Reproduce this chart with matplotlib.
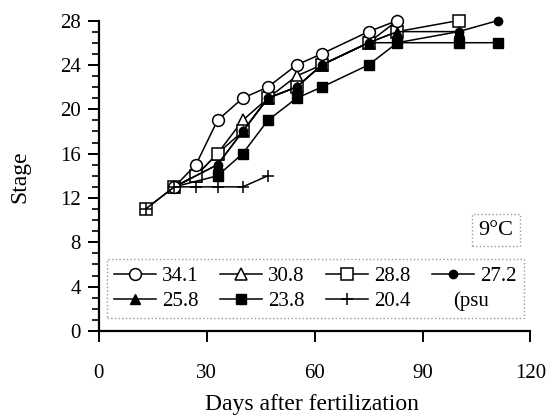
import matplotlib
matplotlib.use("Agg")
import matplotlib.pyplot as plt
from matplotlib.ticker import MultipleLocator

plt.rcParams['font.family'] = ['Liberation Serif', 'DejaVu Serif']

# sampling days (days after fertilization)
days = [13, 21, 27, 33, 40, 47, 55, 62, 75, 83, 100, 111]

# developmental stage per salinity (psu); None = not sampled
s341 = [None, 13, 15, 19, 21, 22, 24, 25, 27, 28, None, None]
s308 = [None, 13, 14, 16, 19, 21, 23, 24, 26, 28, None, None]
s288 = [11, 13, 14, 16, 18, 21, 22, 24, 26, 27, 28, None]
s272 = [None, 13, None, 15, 18, 21, 22, 24, 26, 26, 27, 28]
s258 = [None, 13, None, 15, 18, 21, 22, 24, 26, 27, 27, None]
s238 = [None, 13, None, 14, 16, 19, 21, 22, 24, 26, 26, 26]
s204 = [11, 13, 13, 13, 13, 14, None, None, None, None, None, None]


def pts(vals):
    xs = [d for d, v in zip(days, vals) if v is not None]
    ys = [v for v in vals if v is not None]
    return xs, ys


fig = plt.figure(figsize=(5.52, 4.19), dpi=100)
ax = fig.add_axes([0.179, 0.21, 0.782, 0.741])

style = dict(color='black', lw=1.1, clip_on=False)
lines = {}
x, y = pts(s308)
lines['30.8'] = ax.plot(x, y, marker='^', ms=8.5, mfc='white', mew=1.1, zorder=3, **style)[0]
x, y = pts(s288)
lines['28.8'] = ax.plot(x, y, marker='s', ms=8, mfc='white', mew=1.1, zorder=4, **style)[0]
# filled series share the day-21 point with the open ones, no marker there
skip = slice(1, None)
x, y = pts(s238)
lines['23.8'] = ax.plot(x, y, marker='s', ms=7, mfc='black', markevery=skip, zorder=5, **style)[0]
x, y = pts(s258)
lines['25.8'] = ax.plot(x, y, marker='^', ms=6.5, mfc='black', markevery=skip, zorder=5, **style)[0]
x, y = pts(s272)
lines['27.2'] = ax.plot(x, y, marker='o', ms=6, mfc='black', markevery=skip, zorder=5, **style)[0]
x, y = pts(s341)
lines['34.1'] = ax.plot(x, y, marker='o', ms=8.5, mfc='white', mew=1.1, zorder=6, **style)[0]
x, y = pts(s204)
lines['20.4'] = ax.plot(x, y, marker='+', ms=9, mew=1.1, zorder=7, **style)[0]

ax.set_xlim(0, 120)
ax.set_ylim(0, 28)
ax.set_xticks([0, 30, 60, 90, 120])
ax.set_yticks(range(0, 29, 4))
ax.yaxis.set_minor_locator(MultipleLocator(1))
for s in ['top', 'right']:
    ax.spines[s].set_visible(False)
for s in ['left', 'bottom']:
    ax.spines[s].set_linewidth(1.6)
ax.tick_params(axis='y', which='major', length=8, width=1.4, labelsize=15, pad=5)
ax.tick_params(axis='y', which='minor', length=5, width=1.2)
ax.tick_params(axis='x', which='major', length=8, width=1.4, labelsize=15, pad=16)

fig.text(0.036, 0.578, 'Stage', rotation=90, ha='center', va='center', fontsize=17)
fig.text(0.565, 0.022, 'Days after fertilization', ha='center', va='baseline', fontsize=17)

# legend laid out row-wise in 4 columns
order = ['34.1', '25.8', '30.8', '23.8', '28.8', '20.4', '27.2']
leg = ax.legend([lines[k] for k in order], order, ncol=4, loc='center',
                bbox_to_anchor=(0.018, 0.035, 0.967, 0.2025), mode='expand',
                borderaxespad=0, fontsize=15, handlelength=2.0, handletextpad=0.3,
                columnspacing=0.8, labelspacing=0.25, borderpad=0.35,
                fancybox=False, framealpha=1)
leg.get_frame().set_edgecolor('#999999')
leg.get_frame().set_linestyle(':')
leg.get_frame().set_linewidth(1.0)
ax.text(0.82, 0.097, '(psu', transform=ax.transAxes, fontsize=15,
        ha='left', va='center', zorder=10)

ax.text(0.92, 0.325, '9°C', transform=ax.transAxes, fontsize=16,
        ha='center', va='center',
        bbox=dict(boxstyle='square,pad=0.3', fc='white', ec='#999999', ls=':', lw=1.0))

fig.savefig('out.png', dpi=100)
